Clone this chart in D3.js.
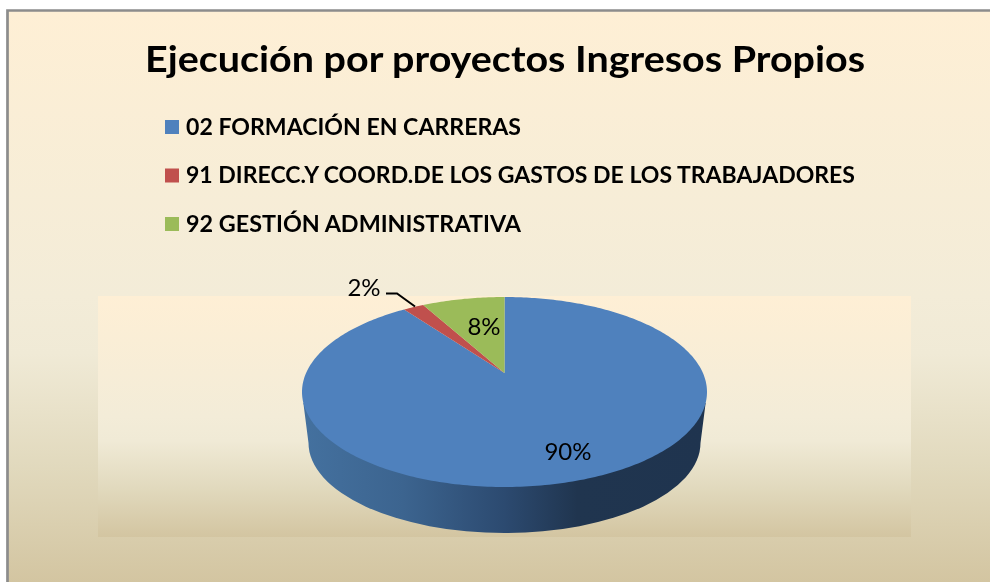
<!DOCTYPE html>
<html>
<head>
<meta charset="utf-8">
<script src="https://cdn.jsdelivr.net/npm/d3@7"></script>
<style>
  html, body { margin: 0; padding: 0; background: #fff; }
  svg { display: block; }
  text { font-family: Lato, "Open Sans", sans-serif; fill: #000; }
</style>
</head>
<body>
<div id="chart-area"></div>
<script>
// DATA
const TITLE = 'Ejecución por proyectos Ingresos Propios'
const categories = [
  '02 FORMACIÓN EN CARRERAS',
  '91 DIRECC.Y COORD.DE LOS GASTOS DE LOS TRABAJADORES',
  '92 GESTIÓN ADMINISTRATIVA'
]
const values = [90, 2, 8]
const colors = ['#4f81bd', '#c0504d', '#9bbb59']
const legendWidths = [335, 669, 335]

const WIDTH = 990
const HEIGHT = 582
const PIE = { CX: 504.5, CY: 392, RX: 202.5, RY: 95, TILT: 0.2 }
const WALL = { CY: 443, RX: 196, RY: 90, JOIN: 11 }

const svg = d3.select('#chart-area').append('svg')
  .attr('width', WIDTH)
  .attr('height', HEIGHT)

// GRADIENTS
const defs = svg.append('defs')
const paper = defs.append('linearGradient')
  .attr('id', 'paper')
  .attr('x1', 0).attr('y1', 0).attr('x2', 0).attr('y2', 1)
paper.selectAll('stop')
  .data([
    [0, '#feefd5'], [0.5, '#f3ecd8'], [0.6, '#f0ead6'], [0.8, '#e1d9bd'], [1, '#d3c5a1']
  ])
  .join('stop')
  .attr('offset', d => d[0])
  .attr('stop-color', d => d[1])

const wallFill = defs.append('linearGradient')
  .attr('id', 'wall')
  .attr('gradientUnits', 'userSpaceOnUse')
  .attr('x1', PIE.CX - PIE.RX).attr('y1', 0)
  .attr('x2', PIE.CX + PIE.RX).attr('y2', 0)
wallFill.selectAll('stop')
  .data([
    [0, '#44719f'], [0.25, '#3c648f'], [0.5, '#2c4a70'], [0.68, '#20354f'], [1, '#1f344f']
  ])
  .join('stop')
  .attr('offset', d => d[0])
  .attr('stop-color', d => d[1])

defs.append('filter').attr('id', 'soft')
  .append('feGaussianBlur').attr('stdDeviation', 0.55)

// BACKGROUND
svg.append('rect')
  .attr('x', 7.5).attr('y', 10.5)
  .attr('width', WIDTH - 7.5).attr('height', HEIGHT - 10.5)
  .attr('fill', 'url(#paper)')
svg.append('path')
  .attr('d', `M7.5,${HEIGHT}V10.5H${WIDTH}`)
  .attr('fill', 'none')
  .attr('stroke', '#8c8c8c')
  .attr('stroke-width', 2.7)

// PLOT AREA
svg.append('rect')
  .attr('x', 98).attr('y', 296)
  .attr('width', 813).attr('height', 241)
  .attr('fill', 'url(#paper)')

// TITLE
svg.append('text')
  .attr('x', 145)
  .attr('y', 72)
  .attr('font-size', 37)
  .attr('font-weight', 700)
  .attr('textLength', 720)
  .attr('lengthAdjust', 'spacingAndGlyphs')
  .attr('filter', 'url(#soft)')
  .text(TITLE)

// LEGEND
const legendY = d3.scalePoint()
  .domain(categories)
  .range([127, 224])
const color = d3.scaleOrdinal()
  .domain(categories)
  .range(colors)

const legend = svg.selectAll('.legend')
  .data(categories)
  .join('g')
  .attr('class', 'legend')
  .attr('transform', d => `translate(165, ${legendY(d)})`)
legend.append('rect')
  .attr('y', -7)
  .attr('width', 14)
  .attr('height', 14)
  .attr('fill', d => color(d))
legend.append('text')
  .attr('x', 21)
  .attr('y', 7.5)
  .attr('font-size', 22)
  .attr('font-weight', 700)
  .attr('textLength', (d, i) => legendWidths[i])
  .attr('lengthAdjust', 'spacingAndGlyphs')
  .attr('filter', 'url(#soft)')
  .text(d => d)

// PIE
// the disc is seen in perspective, so its centre sits above the middle of the ellipse
function project(angle) {
  const X = Math.sin(angle)
  const Y = Math.cos(angle)
  const k = 1 + PIE.TILT * Y
  return [
    PIE.CX + PIE.RX * X * Math.sqrt(1 - PIE.TILT * PIE.TILT) / k,
    PIE.CY - PIE.RY * (Y + PIE.TILT) / k
  ]
}
const apex = [PIE.CX, PIE.CY - PIE.RY * PIE.TILT]
const line = d3.line()

const slices = d3.pie().sort(null).value(d => d)(values)

// side wall, starts a little below the widest point of the top ellipse
const joinX = PIE.RX * Math.sqrt(1 - (WALL.JOIN / PIE.RY) ** 2)
svg.append('path')
  .attr('d', `M${PIE.CX - joinX},${PIE.CY + WALL.JOIN}`
    + `L${PIE.CX - WALL.RX},${WALL.CY}`
    + `A${WALL.RX},${WALL.RY} 0 0 0 ${PIE.CX + WALL.RX},${WALL.CY}`
    + `L${PIE.CX + joinX},${PIE.CY + WALL.JOIN}Z`)
  .attr('fill', 'url(#wall)')

svg.selectAll('.slice')
  .data(slices)
  .join('path')
  .attr('class', 'slice')
  .attr('fill', (d, i) => colors[i])
  .attr('d', d => {
    const n = Math.ceil((d.endAngle - d.startAngle) * 60)
    const rim = d3.range(n + 1)
      .map(i => project(d.startAngle + (d.endAngle - d.startAngle) * i / n))
    return line([apex, ...rim]) + 'Z'
  })

// DATA LABELS
const labelPos = [[568, 452], [364, 288], [484, 327]]
svg.selectAll('.pct')
  .data(slices)
  .join('text')
  .attr('class', 'pct')
  .attr('x', (d, i) => labelPos[i][0])
  .attr('y', (d, i) => labelPos[i][1])
  .attr('dy', '0.35em')
  .attr('text-anchor', 'middle')
  .attr('font-size', 24)
  .attr('filter', 'url(#soft)')
  .text(d => d.value + '%')

// leader line for the small slice
svg.append('path')
  .attr('d', line([[386, 293.5], [397, 293.5], [415, 306.5]]))
  .attr('fill', 'none')
  .attr('stroke', '#000')
  .attr('stroke-width', 2)
</script>
</body>
</html>
